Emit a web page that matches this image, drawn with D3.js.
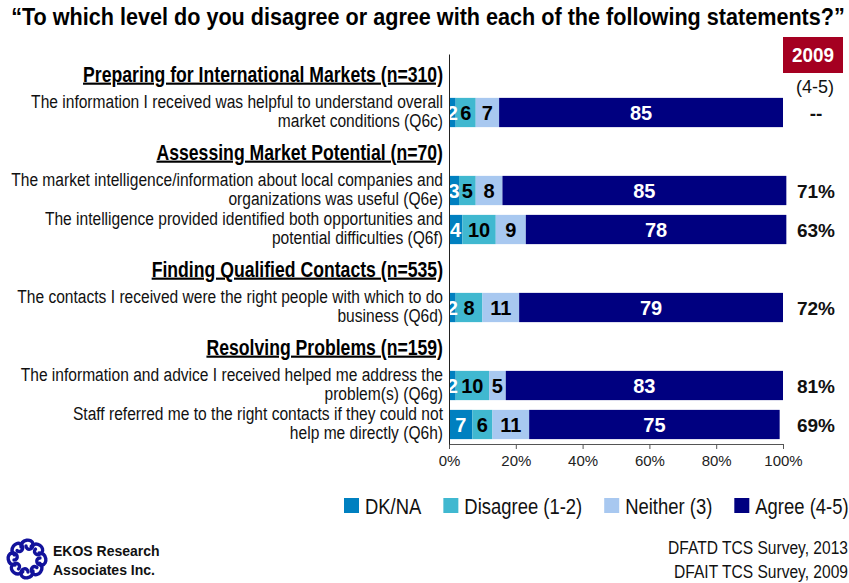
<!DOCTYPE html>
<html>
<head>
<meta charset="utf-8">
<script src="https://cdn.jsdelivr.net/npm/d3@7"></script>
<style>
  html, body { margin: 0; padding: 0; background: #fff; }
  svg { display: block; }
  text { font-family: "Liberation Sans", Arial, sans-serif; }
</style>
</head>
<body>
<svg id="chart" width="849" height="583"></svg>
<script>
// Survey statements, grouped under their service area
const groupNames = [
  "Preparing for International Markets (n=310)",
  "Assessing Market Potential (n=70)",
  "Finding Qualified Contacts (n=535)",
  "Resolving Problems (n=159)"
];
const groupSizes = [1, 2, 1, 2];

const statements = [
  ["The information I received was helpful to understand overall", "market conditions (Q6c)"],
  ["The market intelligence/information about local companies and", "organizations was useful (Q6e)"],
  ["The intelligence provided identified both opportunities and", "potential difficulties (Q6f)"],
  ["The contacts I received were the right people with which to do", "business (Q6d)"],
  ["The information and advice I received helped me address the", "problem(s) (Q6g)"],
  ["Staff referred me to the right contacts if they could not", "help me directly (Q6h)"]
];

// Response shares (%) per statement
const dkna     = [2, 3, 4, 2, 2, 7];
const disagree = [6, 5, 10, 8, 10, 6];
const neither  = [7, 8, 9, 11, 5, 11];
const agree    = [85, 85, 78, 79, 83, 75];

// 2009 comparison (agree 4-5)
const agree2009 = ["--", "71%", "63%", "72%", "81%", "69%"];

const seriesNames  = ["DK/NA", "Disagree (1-2)", "Neither (3)", "Agree (4-5)"];
const seriesColors = ["#0080C0", "#40B8D0", "#A8C8F0", "#000080"];
const labelColors  = ["#fff", "#000", "#000", "#fff"];

const tickValues = [0, 20, 40, 60, 80, 100];

// Horizontal squeeze that gives the condensed face look
const NARROW = 0.82;

// Build row slots: a header slot followed by its statements
const slots = [];
let si = 0;
groupNames.forEach((g, gi) => {
  slots.push({ key: "h" + gi, type: "header", text: g });
  for (let k = 0; k < groupSizes[gi]; k++) {
    slots.push({ key: "s" + si, type: "bar", index: si });
    si++;
  }
});

const rows = statements.map((lines, i) => {
  const vals = [dkna[i], disagree[i], neither[i], agree[i]];
  let acc = 0;
  const segs = vals.map((v, j) => {
    const s = { x0: acc, x1: acc + v, value: v, series: j };
    acc += v;
    return s;
  });
  return { key: "s" + i, lines, segs, prior: agree2009[i] };
});

const svg = d3.select("#chart");

// Condensed text placed at (x, y); returns the <text> selection
function narrowText(parent, x, y, opts) {
  const g = parent.append("g")
    .attr("transform", `translate(${x},${y}) scale(${opts.squeeze || NARROW},1)`);
  const t = g.append("text")
    .attr("x", 0).attr("y", 0)
    .attr("text-anchor", opts.anchor || "start")
    .attr("font-size", opts.size)
    .attr("font-weight", opts.weight || "normal")
    .attr("fill", opts.fill || "#111");
  if (opts.text != null) t.text(opts.text);
  return t;
}

const x = d3.scaleLinear().domain([0, 100]).range([449, 783]);
const y = d3.scaleBand()
  .domain(slots.map(d => d.key))
  .range([54, 444])
  .paddingInner(0.25)
  .paddingOuter(0.125);

// Title
narrowText(svg, 428, 25, {
  anchor: "middle", size: 24, weight: "bold", fill: "#000", squeeze: 0.9,
  text: "\u201CTo which level do you disagree or agree with each of the following statements?\u201D"
});

// Group headers
slots.filter(d => d.type === "header").forEach(d => {
  narrowText(svg, 443, y(d.key) + y.bandwidth() / 2 + 8, {
    anchor: "end", size: 21.5, weight: "bold", fill: "#000", text: d.text
  }).attr("text-decoration", "underline");
});

// Statement labels
rows.forEach(r => {
  const cy = y(r.key) + y.bandwidth() / 2;
  const t = narrowText(svg, 443, 0, { anchor: "end", size: 19 });
  t.append("tspan").attr("x", 0).attr("y", cy - 4).text(r.lines[0]);
  t.append("tspan").attr("x", 0).attr("y", cy + 14.5).text(r.lines[1]);
});

// Stacked bars
const barG = svg.append("g");
const rowG = barG.selectAll("g.row").data(rows).join("g")
  .attr("class", "row")
  .attr("transform", d => `translate(0,${y(d.key)})`);

rowG.selectAll("rect").data(d => d.segs).join("rect")
  .attr("x", d => x(d.x0))
  .attr("width", d => x(d.x1) - x(d.x0))
  .attr("y", 0)
  .attr("height", y.bandwidth())
  .attr("fill", d => seriesColors[d.series]);

rowG.selectAll("text.seg").data(d => d.segs).join("text")
  .attr("class", "seg")
  .attr("x", d => (x(d.x0) + x(d.x1)) / 2)
  .attr("y", y.bandwidth() / 2 + 7)
  .attr("text-anchor", "middle")
  .attr("font-size", 20).attr("font-weight", "bold")
  .attr("fill", d => labelColors[d.series])
  .text(d => d.value);

// 2009 column
svg.append("rect")
  .attr("x", 783).attr("y", 37)
  .attr("width", 60).attr("height", 36)
  .attr("fill", "#A50021");
narrowText(svg, 813, 62, {
  anchor: "middle", size: 21, weight: "bold", fill: "#fff", squeeze: 0.9, text: "2009"
});
svg.append("text")
  .attr("x", 815).attr("y", 93)
  .attr("text-anchor", "middle")
  .attr("font-size", 18)
  .attr("fill", "#111")
  .text("(4-5)");

svg.append("g").selectAll("text").data(rows).join("text")
  .attr("x", 816)
  .attr("y", d => y(d.key) + y.bandwidth() / 2 + 7)
  .attr("text-anchor", "middle")
  .attr("font-size", 19).attr("font-weight", "bold")
  .attr("fill", "#111")
  .text(d => d.prior);

// Axes
const xAxis = svg.append("g")
  .attr("transform", "translate(0,444)")
  .call(d3.axisBottom(x).tickValues(tickValues).tickSize(5).tickSizeOuter(0).tickPadding(6)
    .tickFormat(d => d + "%"));
xAxis.selectAll("text")
  .style("font-family", "'Liberation Sans', Arial, sans-serif")
  .attr("font-size", 15).attr("fill", "#222");
xAxis.selectAll("line, path").attr("stroke", "#555");

const yAxis = svg.append("g")
  .attr("transform", "translate(449,0)")
  .call(d3.axisLeft(y).tickValues([]).tickSizeOuter(0));
yAxis.select("path").attr("stroke", "#222");

// Legend
const legend = svg.append("g").attr("transform", "translate(344,498)");
let lx = 0;
seriesNames.forEach((name, i) => {
  const item = legend.append("g").attr("transform", `translate(${lx},0)`);
  item.append("rect").attr("width", 15).attr("height", 15).attr("fill", seriesColors[i]);
  const t = narrowText(item, 21, 16, { size: 22.5, text: name });
  lx += 21 + t.node().getComputedTextLength() * NARROW + 22;
});

// Source notes
narrowText(svg, 848, 554, { anchor: "end", size: 19, text: "DFATD TCS Survey, 2013" });
narrowText(svg, 848, 578, { anchor: "end", size: 19, text: "DFAIT TCS Survey, 2009" });

// Company mark: a ring of curled strokes
const logo = svg.append("g").attr("transform", "translate(27,559)");
logo.selectAll("path").data(d3.range(8)).join("path")
  .attr("transform", d => `rotate(${d * 45}) translate(0,-13)`)
  .attr("d", "M-6,1 C-6,-7 5,-8 6,-2 C7,4 -1,5 -1,0")
  .attr("fill", "none")
  .attr("stroke", "#12129c")
  .attr("stroke-width", 3.4)
  .attr("stroke-linecap", "round");

svg.append("text")
  .attr("x", 53).attr("y", 556)
  .attr("font-size", 14).attr("font-weight", "bold").attr("fill", "#111")
  .text("EKOS Research");
svg.append("text")
  .attr("x", 53).attr("y", 575)
  .attr("font-size", 14).attr("font-weight", "bold").attr("fill", "#111")
  .text("Associates Inc.");
</script>
</body>
</html>
